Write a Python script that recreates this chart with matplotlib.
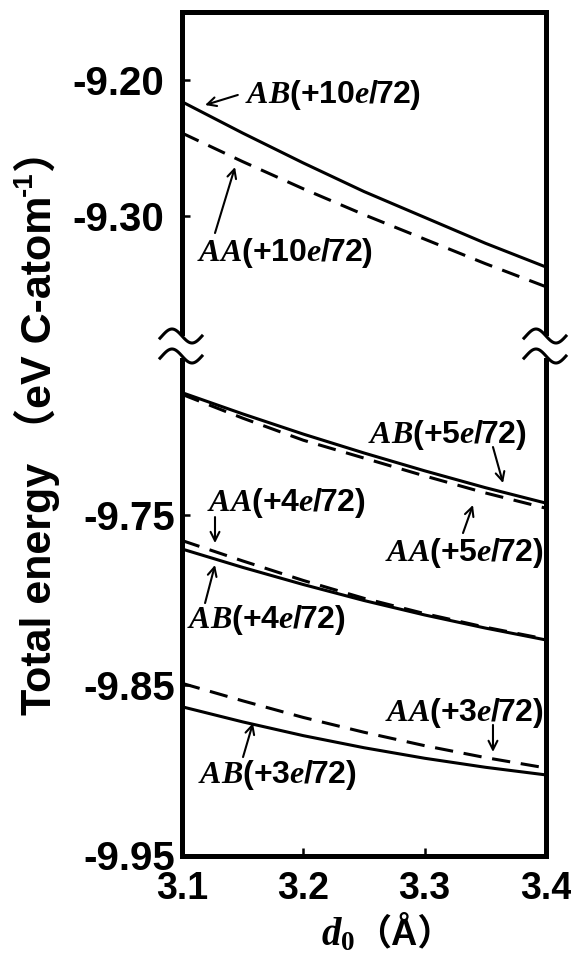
import numpy as np
import matplotlib.pyplot as plt
from matplotlib.lines import Line2D
from matplotlib.transforms import IdentityTransform

plt.rcParams['font.family'] = ['Liberation Sans', 'Noto Sans CJK SC', 'DejaVu Sans']
plt.rcParams['font.weight'] = 'bold'
plt.rcParams['axes.unicode_minus'] = False
plt.rcParams['mathtext.fontset'] = 'custom'
plt.rcParams['mathtext.it'] = 'Liberation Serif:italic'
plt.rcParams['mathtext.bf'] = 'Liberation Sans:bold'
plt.rcParams['mathtext.rm'] = 'Liberation Sans:bold'
plt.rcParams['mathtext.sf'] = 'Liberation Serif:bold'
plt.rcParams['mathtext.bfit'] = 'Liberation Serif:italic:bold'

# d0 (Å)
d0 = [3.10, 3.15, 3.20, 3.25, 3.30, 3.35, 3.40]

# total energy (eV / C-atom)
ab_10 = [-9.216, -9.239, -9.261, -9.282, -9.301, -9.320, -9.3375]
aa_10 = [-9.239, -9.260, -9.280, -9.299, -9.317, -9.335, -9.352]
ab_5 = [-9.678, -9.6905, -9.7024, -9.7135, -9.724, -9.7339, -9.743]
aa_5 = [-9.679, -9.693, -9.706, -9.7165, -9.727, -9.737, -9.746]
ab_4 = [-9.770, -9.7808, -9.7909, -9.8003, -9.8088, -9.8165, -9.8235]
aa_4 = [-9.765, -9.777, -9.7885, -9.799, -9.808, -9.816, -9.823]
ab_3 = [-9.8628, -9.8717, -9.8798, -9.8869, -9.8931, -9.8984, -9.9029]
aa_3 = [-9.849, -9.8593, -9.8691, -9.8778, -9.8857, -9.8927, -9.8988]

xticks = [3.1, 3.2, 3.3, 3.4]
xtick_labels = ['3.1', '3.2', '3.3', '3.4']
yticks_top = [-9.20, -9.30]
ytick_labels_top = ['-9.20', '-9.30']
yticks_bot = [-9.75, -9.85, -9.95]
ytick_labels_bot = ['-9.75', '-9.85', '-9.95']


def lab(cfg, q):
    return r'$\mathit{%s}\mathbf{(+%d}\mathit{e}\mathbf{/72)}$' % (cfg, q)


W, H = 571, 958
fig = plt.figure(figsize=(W / 100, H / 100), dpi=100)
L = 182 / W
AW = 546 / W - L
ax1 = fig.add_axes([L, 1 - 333 / H, AW, (333 - 12) / H])
ax2 = fig.add_axes([L, 1 - 856 / H, AW, (856 - 360) / H])

lw = 2.2
dash = (6, 3.5)
ax1.plot(d0, ab_10, color='k', lw=lw)
ax1.plot(d0, aa_10, color='k', lw=lw, dashes=dash)
ax2.plot(d0, ab_5, color='k', lw=lw)
ax2.plot(d0, aa_5, color='k', lw=lw, dashes=dash)
ax2.plot(d0, ab_4, color='k', lw=lw)
ax2.plot(d0, aa_4, color='k', lw=lw, dashes=dash)
ax2.plot(d0, ab_3, color='k', lw=lw)
ax2.plot(d0, aa_3, color='k', lw=lw, dashes=dash)

ax1.set_xlim(3.1, 3.4)
ax2.set_xlim(3.1, 3.4)
ax1.set_ylim(-9.386, -9.15)
ax2.set_ylim(-9.9506, -9.6588)

for ax in (ax1, ax2):
    for s in ax.spines.values():
        s.set_linewidth(3.6)
    ax.tick_params(axis='both', direction='in', length=6, width=1.8,
                   labelsize=29, right=False, top=False)
ax1.tick_params(axis='y', pad=13)
ax2.tick_params(axis='y', pad=5)
ax1.spines['bottom'].set_visible(False)
ax2.spines['top'].set_visible(False)
ax1.set_xticks([])
ax1.set_yticks(yticks_top, ytick_labels_top)
ax2.set_yticks(yticks_bot, ytick_labels_bot)
ax2.set_xticks(xticks, xtick_labels)
ax2.tick_params(axis='x', pad=11, labelsize=27)

# labels with arrows: (axes, text, text pos, arrow tail, arrow head)
notes = [
    (ax1, lab('AB', 10), (3.152, -9.211), (3.146, -9.211), (3.119, -9.2184)),
    (ax1, lab('AA', 10), (3.1124, -9.3272), (3.1272, -9.3125), (3.1437, -9.264)),
    (ax2, lab('AB', 5), (3.2533, -9.703), (3.3563, -9.710), (3.3646, -9.7312)),
    (ax2, lab('AA', 5), (3.2673, -9.7724), (3.3316, -9.7606), (3.3398, -9.7441)),
    (ax2, lab('AA', 4), (3.1206, -9.7429), (3.1272, -9.7512), (3.1272, -9.7665)),
    (ax2, lab('AB', 4), (3.1041, -9.8118), (3.119, -9.8018), (3.1272, -9.7794)),
    (ax2, lab('AA', 3), (3.2673, -9.8665), (3.3563, -9.8735), (3.3563, -9.8894)),
    (ax2, lab('AB', 3), (3.1132, -9.9029), (3.1503, -9.8924), (3.1585, -9.8724)),
]
for ax, txt, tp, tail, head in notes:
    ax.text(tp[0], tp[1], txt, fontsize=23, ha='left', va='center')
    ax.annotate('', xy=head, xytext=tail,
                arrowprops=dict(arrowstyle='->', lw=1.5, color='k',
                                shrinkA=0, shrinkB=0, mutation_scale=16))

# axis-break marks
dx = np.linspace(-22, 20, 60)
dy = 7 * np.sin(np.pi * dx / 20)
for cx in (182, 546):
    for cy in (336, 356):
        fig.add_artist(Line2D((cx + dx) / W, 1 - (cy + dy) / H, color='k',
                              lw=2.2, transform=fig.transFigure))

# y label, pieced together bottom to top (pixel coords)
px = IdentityTransform()
renderer = fig.canvas.get_renderer()
ypos = H - 715
for s, size, off in [('Total energy （eV C-atom', 31, 0),
                     ('-1', 20, -12), ('）', 31, 0)]:
    t = fig.text(37 + off, ypos, s, rotation=90, fontsize=size,
                 fontweight='bold', ha='center', va='bottom', transform=px)
    ypos = t.get_window_extent(renderer).y1

# x label
fig.text(355, H - 945, r'$\mathbfit{d}_{\mathsf{0}}$', fontsize=28,
         ha='right', va='baseline', transform=px)
fig.text(355, H - 944, '（Å）', fontsize=26, fontweight='bold',
         ha='left', va='baseline', transform=px)

fig.savefig('out.png', dpi=100)
